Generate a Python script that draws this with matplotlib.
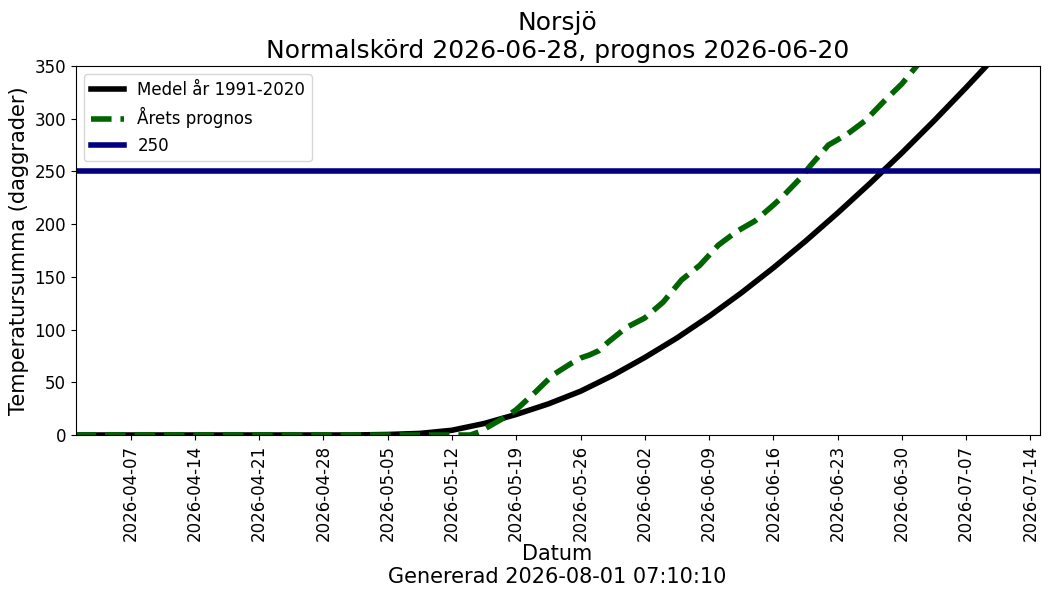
import pandas as pd
import matplotlib
matplotlib.use("Agg")
import matplotlib.pyplot as plt
import matplotlib.dates as mdates

# === Data ===
mean_dates = ["2026-04-01 00:00", "2026-04-15 00:00", "2026-05-01 00:00", "2026-05-05 00:00",
              "2026-05-08 12:00", "2026-05-12 00:00", "2026-05-15 12:00", "2026-05-19 00:00",
              "2026-05-22 12:00", "2026-05-26 00:00", "2026-05-29 12:00", "2026-06-02 00:00",
              "2026-06-05 12:00", "2026-06-09 00:00", "2026-06-12 12:00", "2026-06-16 00:00",
              "2026-06-19 12:00", "2026-06-23 00:00", "2026-06-26 12:00", "2026-06-30 00:00",
              "2026-07-03 12:00", "2026-07-07 00:00", "2026-07-10 12:00", "2026-07-14 00:00",
              "2026-07-15 00:00"]
mean_values = [0, 0, 0, 0.5,
               1.5, 4.5, 10.9, 19.5,
               29.5, 41.5, 56.5, 73.5,
               92, 112.5, 134.7, 158.5,
               183.8, 210.5, 238.4, 267.5,
               297.9, 329.5, 362, 396,
               405]

prog_dates = ["2026-04-01", "2026-05-13", "2026-05-14", "2026-05-15", "2026-05-16",
              "2026-05-17", "2026-05-18", "2026-05-19", "2026-05-21", "2026-05-23",
              "2026-05-25", "2026-05-26", "2026-05-27", "2026-05-28", "2026-05-29",
              "2026-05-31", "2026-06-02", "2026-06-04", "2026-06-06", "2026-06-08",
              "2026-06-10", "2026-06-12", "2026-06-14", "2026-06-16", "2026-06-17",
              "2026-06-19", "2026-06-20", "2026-06-22", "2026-06-24", "2026-06-26",
              "2026-06-28", "2026-06-30", "2026-07-02", "2026-07-03"]
prog_values = [0, 0, 0, 3, 8,
               13, 18, 24, 40, 57,
               68, 73, 76, 80, 88,
               102, 111, 126, 147, 161,
               180, 193, 203, 218, 226,
               244, 255, 275, 285, 298,
               316, 333, 354, 365]

threshold = 250
station = "Norsjö"
normal_date = "2026-06-28"
prog_date = "2026-06-20"
generated = "2026-08-01 07:10:10"

# === Plot ===
fig = plt.figure(figsize=(10.5, 6), dpi=100)
ax = fig.add_axes([0.072, 0.275, 0.918, 0.615])

ax.plot(pd.to_datetime(mean_dates, format="%Y-%m-%d %H:%M"), mean_values,
        color="black", lw=4, label="Medel år 1991-2020")
ax.plot(pd.to_datetime(prog_dates, format="%Y-%m-%d"), prog_values,
        color="darkgreen", lw=4, ls="--", label="Årets prognos")
ax.axhline(threshold, color="navy", lw=4, label=str(threshold))

ax.set_xlim(pd.Timestamp("2026-04-01"), pd.Timestamp("2026-07-15"))
ax.set_ylim(0, 350)
ticks = pd.date_range("2026-04-07", "2026-07-14", freq="7D")
ax.set_xticks(ticks)
ax.xaxis.set_major_formatter(mdates.DateFormatter("%Y-%m-%d"))
ax.tick_params(axis="x", labelrotation=90, labelsize=12)
ax.tick_params(axis="y", labelsize=12)

ax.set_title(f"{station}\nNormalskörd {normal_date}, prognos {prog_date}", fontsize=18)
ax.set_xlabel(f"Datum\nGenererad {generated}", fontsize=15, labelpad=2)
ax.set_ylabel("Temperatursumma (daggrader)", fontsize=15)
ax.legend(loc="upper left", fontsize=12)

fig.savefig("out.png", dpi=100)
